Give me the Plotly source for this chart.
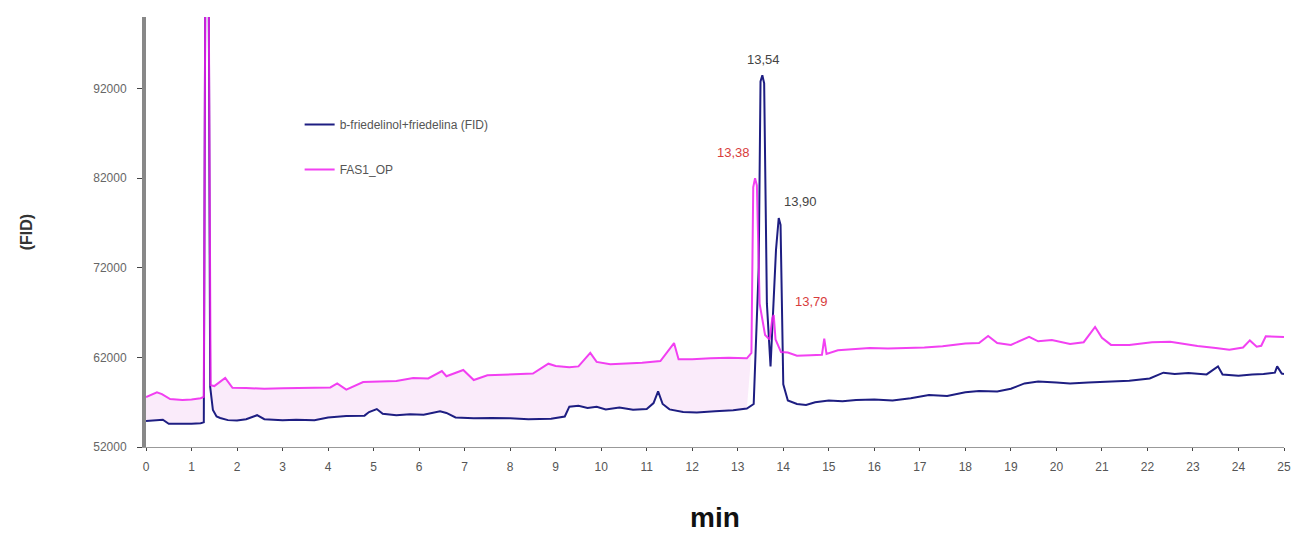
import plotly.graph_objects as go

# Retention time (min) and detector signal for the reference standard
std_time = [0.0, 0.2, 0.37, 0.5, 0.8, 1.0, 1.2, 1.27, 1.30, 1.38, 1.41, 1.47, 1.55, 1.63,
            1.8, 2.0, 2.2, 2.44, 2.6, 3.0, 3.3, 3.7, 4.0, 4.4, 4.8, 4.9, 5.07, 5.2, 5.5,
            5.8, 6.1, 6.46, 6.6, 6.8, 7.2, 7.6, 8.0, 8.4, 8.9, 9.2, 9.3, 9.5, 9.7, 9.9,
            10.1, 10.4, 10.7, 11.0, 11.15, 11.25, 11.35, 11.5, 11.8, 12.1, 12.5, 12.9,
            13.2, 13.35, 13.46, 13.50, 13.54, 13.58, 13.64, 13.72, 13.84, 13.90, 13.94,
            14.00, 14.1, 14.3, 14.5, 14.7, 15.0, 15.3, 15.6, 16.0, 16.4, 16.8, 17.2, 17.6,
            18.0, 18.3, 18.7, 19.0, 19.3, 19.6, 20.0, 20.3, 20.7, 21.2, 21.6, 22.05,
            22.35, 22.6, 22.9, 23.3, 23.55, 23.65, 24.0, 24.3, 24.55, 24.8, 24.85, 24.95,
            25.0]
std_signal = [54900, 54950, 55050, 54600, 54550, 54600, 54650, 54750, 100500, 100500,
              58700, 56130, 55400, 55240, 55000, 54950, 55100, 55550, 55100, 55000,
              55050, 55000, 55300, 55450, 55500, 55900, 56240, 55700, 55550, 55650,
              55600, 56000, 55800, 55300, 55200, 55250, 55200, 55100, 55150, 55400,
              56500, 56600, 56350, 56500, 56200, 56400, 56150, 56250, 56900, 58200,
              56800, 56200, 55900, 55850, 56000, 56100, 56300, 56800, 72000, 92800,
              93500, 92600, 68000, 61000, 74000, 77560, 76800, 59000, 57200, 56800,
              56700, 57000, 57200, 57100, 57250, 57300, 57200, 57450, 57800, 57700,
              58100, 58250, 58200, 58500, 59100, 59300, 59200, 59100, 59200, 59350,
              59400, 59650, 60300, 60150, 60250, 60100, 61000, 60100, 59950, 60100,
              60150, 60300, 61000, 60200, 60150]

# Retention time (min) and detector signal for the FAS1_OP sample
sam_time = [0.0, 0.24, 0.35, 0.53, 0.8, 1.0, 1.2, 1.27, 1.30, 1.38, 1.42, 1.5, 1.74, 1.9,
            2.2, 2.6, 3.0, 3.3, 3.7, 4.05, 4.2, 4.4, 4.77, 5.1, 5.5, 5.87, 6.2, 6.5, 6.6,
            6.97, 7.2, 7.5, 7.9, 8.2, 8.5, 8.84, 9.0, 9.3, 9.5, 9.76, 9.9, 10.2, 10.5,
            10.9, 11.3, 11.6, 11.7, 12.0, 12.4, 12.8, 13.2, 13.30, 13.34, 13.38, 13.42,
            13.48, 13.6, 13.70, 13.76, 13.79, 13.83, 13.95, 14.1, 14.3, 14.6, 14.85, 14.9,
            14.95, 15.2, 15.5, 15.9, 16.3, 16.7, 17.1, 17.5, 18.0, 18.3, 18.5, 18.7,
            19.0, 19.4, 19.6, 19.9, 20.3, 20.6, 20.85, 21.0, 21.2, 21.6, 22.1, 22.5,
            22.8, 23.1, 23.5, 23.8, 24.1, 24.25, 24.4, 24.5, 24.6, 25.0]
sam_signal = [57580, 58100, 57900, 57350, 57250, 57300, 57450, 57600, 100500, 100500,
              58900, 58800, 59700, 58600, 58580, 58500, 58550, 58560, 58600, 58650,
              59100, 58400, 59250, 59300, 59370, 59700, 59650, 60480, 59900, 60600,
              59480, 60000, 60050, 60100, 60200, 61300, 61050, 60900, 61000, 62500,
              61500, 61250, 61300, 61400, 61600, 63600, 61800, 61800, 61900, 61950,
              61900, 62500, 81000, 82000, 81200, 68000, 64500, 64000, 66400, 66730,
              64000, 62600, 62550, 62200, 62250, 62300, 64100, 62400, 62800, 62900,
              63050, 63000, 63050, 63100, 63250, 63550, 63600, 64400, 63600, 63400,
              64300, 63800, 63950, 63500, 63700, 65400, 64200, 63400, 63400, 63700,
              63750, 63500, 63270, 63050, 62850, 63100, 63900, 63200, 63300, 64350,
              64280]

series_names = ["b-friedelinol+friedelina (FID)", "FAS1_OP"]
peak_labels = ["13,54", "13,38", "13,90", "13,79"]
y_ticks = [52000, 62000, 72000, 82000, 92000]
x_ticks = list(range(0, 26))

STD_COLOR = "#1e1e82"
SAM_COLOR = "#f020f0"
SHADE_END = 13.3

fig = go.Figure()

# shaded band between the two chromatograms before the main peaks
band_std = [(t, v) for t, v in zip(std_time, std_signal) if t <= SHADE_END]
band_sam = [(t, v) for t, v in zip(sam_time, sam_signal) if t <= SHADE_END]
fig.add_trace(go.Scatter(x=[p[0] for p in band_std], y=[p[1] for p in band_std],
                         mode="lines", line=dict(width=0), showlegend=False,
                         hoverinfo="skip"))
fig.add_trace(go.Scatter(x=[p[0] for p in band_sam], y=[p[1] for p in band_sam],
                         mode="lines", line=dict(width=0), fill="tonexty",
                         fillcolor="rgba(246,222,246,0.6)", showlegend=False,
                         hoverinfo="skip"))

fig.add_trace(go.Scatter(x=std_time, y=std_signal, mode="lines", name=series_names[0],
                         line=dict(color=STD_COLOR, width=2), legendgroup="a"))
fig.add_trace(go.Scatter(x=sam_time, y=sam_signal, mode="lines", name=series_names[1],
                         line=dict(color=SAM_COLOR, width=2), opacity=0.85,
                         legendgroup="b"))

# retention-time labels of the main peaks
label_font = dict(family="Liberation Sans, Arial", size=13)
fig.add_annotation(x=13.56, y=95300, text=peak_labels[0], showarrow=False,
                   font=dict(color="#444444", **label_font))
fig.add_annotation(x=13.32, y=84900, text=peak_labels[1], showarrow=False,
                   xanchor="right", font=dict(color="#d83c3c", **label_font))
fig.add_annotation(x=14.37, y=79400, text=peak_labels[2], showarrow=False,
                   font=dict(color="#444444", **label_font))
fig.add_annotation(x=14.63, y=68200, text=peak_labels[3], showarrow=False,
                   font=dict(color="#d83c3c", **label_font))

fig.update_layout(
    width=1298, height=533,
    margin=dict(l=146, r=14, t=17, b=86),
    paper_bgcolor="white", plot_bgcolor="white",
    font=dict(family="Liberation Sans, Arial", color="#555555", size=11),
    legend=dict(x=0.135, y=0.784, xanchor="left", yanchor="top",
                bgcolor="rgba(0,0,0,0)", font=dict(size=12, color="#555555"),
                tracegroupgap=26, traceorder="grouped"),
)
fig.update_xaxes(range=[0, 25], tickvals=x_ticks, ticktext=[str(v) for v in x_ticks],
                 showgrid=False, zeroline=False, showline=True, linecolor="#999999",
                 linewidth=1, ticks="outside", ticklen=3, tickcolor="#444444",
                 ticklabelstandoff=6, tickfont=dict(size=12, color="#555555"),
                 automargin=False,
                 title=dict(text="<b>min</b>", font=dict(size=28, color="#111111"),
                            standoff=34))
fig.update_yaxes(range=[52000, 100000], tickvals=y_ticks,
                 ticktext=[str(v) for v in y_ticks], showgrid=False, zeroline=False,
                 showline=True, linecolor="#888888", linewidth=4, ticks="outside",
                 ticklen=5, tickcolor="#444444", ticklabelstandoff=8,
                 tickfont=dict(size=12, color="#666666"), automargin=False,
                 title=dict(text="<b>(FID)</b>", font=dict(size=16, color="#333333"),
                            standoff=58))

fig.write_html("out.html")
